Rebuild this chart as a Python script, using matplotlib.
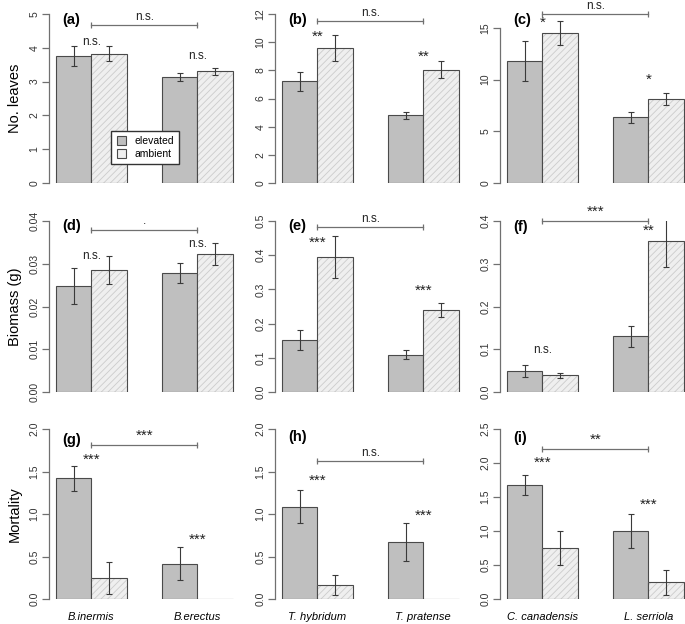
import numpy as np
import matplotlib.pyplot as plt
from matplotlib.patches import Patch

plt.rcParams['font.family'] = ['Liberation Sans', 'DejaVu Sans']
plt.rcParams['hatch.linewidth'] = 0.6

# ---- data (elevated / ambient, group 1 and group 2) ----
species = [["B.inermis", "B.erectus"],
           ["T. hybridum", "T. pratense"],
           ["C. canadensis", "L. serriola"]]

leaves_elev = [[3.75, 3.14], [7.22, 4.80], [11.8, 6.35]]
leaves_elev_se = [[0.30, 0.12], [0.67, 0.26], [1.90, 0.56]]
leaves_amb = [[3.83, 3.30], [9.58, 8.05], [14.5, 8.13]]
leaves_amb_se = [[0.23, 0.10], [0.94, 0.60], [1.15, 0.55]]

biom_elev = [[0.0248, 0.0278], [0.153, 0.109], [0.049, 0.130]]
biom_elev_se = [[0.0042, 0.0024], [0.029, 0.013], [0.013, 0.025]]
biom_amb = [[0.0286, 0.0322], [0.395, 0.240], [0.039, 0.353]]
biom_amb_se = [[0.0033, 0.0026], [0.062, 0.020], [0.0055, 0.060]]

mort_elev = [[1.418, 0.417], [1.088, 0.672], [1.675, 1.007]]
mort_elev_se = [[0.15, 0.195], [0.197, 0.225], [0.145, 0.25]]
mort_amb = [[0.248, 0.0], [0.165, 0.0], [0.751, 0.246]]
mort_amb_se = [[0.185, 0.0], [0.118, 0.0], [0.25, 0.18]]

# significance labels: (group1, group2, between groups)
sig = [[("n.s.", "n.s.", "n.s."), ("**", "**", "n.s."), ("*", "*", "n.s.")],
       [("n.s.", "n.s.", "."), ("***", "***", "n.s."), ("n.s.", "**", "***")],
       [("***", "***", "***"), ("***", "***", "n.s."), ("***", "***", "**")]]
# y positions of those labels and of the bracket
sig_y = [[(4.17, 3.77, 4.66), (10.4, 8.94, 11.53), (15.5, 10.0, 16.35)],
         [(0.0317, 0.0347, 0.038), (0.436, 0.297, 0.482), (0.099, 0.377, 0.40)],
         [(1.64, 0.70, 1.815), (1.39, 0.98, 1.62), (2.0, 1.385, 2.205)]]

panel_letters = [["(a)", "(b)", "(c)"], ["(d)", "(e)", "(f)"], ["(g)", "(h)", "(i)"]]
letter_y = [[0.965, 0.965, 0.965], [0.97, 0.97, 0.965], [0.935, 0.95, 0.947]]
ylims = [[5, 12, 16.35], [0.04, 0.5, 0.4], [2.0, 2.0, 2.5]]
yticks = [[np.arange(0, 6, 1), np.arange(0, 13, 2), np.arange(0, 16, 5)],
          [np.arange(0, 0.041, 0.01), np.arange(0, 0.51, 0.1), np.arange(0, 0.41, 0.1)],
          [np.arange(0, 2.01, 0.5), np.arange(0, 2.01, 0.5), np.arange(0, 2.51, 0.5)]]
fmts = [["%d", "%d", "%d"], ["%.2f", "%.1f", "%.1f"], ["%.1f", "%.1f", "%.1f"]]
ylabels = ["No. leaves", "Biomass (g)", "Mortality"]

elev = [leaves_elev, biom_elev, mort_elev]
elev_se = [leaves_elev_se, biom_elev_se, mort_elev_se]
amb = [leaves_amb, biom_amb, mort_amb]
amb_se = [leaves_amb_se, biom_amb_se, mort_amb_se]

# ---- layout in pixels ----
W, H = 685, 624
col_left = [49, 275, 500]
unit = 35.3
row_box = [(14, 183), (221, 392), (429, 599)]

c_elev = '#bfbfbf'
c_amb = '#efefef'
c_edge = '#4a4a4a'
c_axis = '#707070'

fig = plt.figure(figsize=(W / 100, H / 100), dpi=100)

x_elev = np.array([1.5, 4.5])
x_amb = np.array([2.5, 5.5])

for r in range(3):
    top, bot = row_box[r]
    for c in range(3):
        ax = fig.add_axes([col_left[c] / W, 1 - bot / H, 5.4 * unit / W, (bot - top) / H])
        ax.set_xlim(0.8, 6.2)
        ax.set_ylim(0, ylims[r][c])

        ax.bar(x_elev, elev[r][c], width=1, color=c_elev, edgecolor=c_edge, linewidth=0.8)
        ax.bar(x_amb, amb[r][c], width=1, color=c_amb, edgecolor='#cccccc',
               hatch='/////', linewidth=0)
        ax.bar(x_amb, amb[r][c], width=1, fill=False, edgecolor=c_edge, linewidth=0.8)

        for xs, ys, es in [(x_elev, elev[r][c], elev_se[r][c]), (x_amb, amb[r][c], amb_se[r][c])]:
            for xx, yy, ee in zip(xs, ys, es):
                if ee > 0:
                    ax.errorbar(xx, yy, yerr=ee, color='#3a3a3a', elinewidth=0.8,
                                capsize=2.2, capthick=0.8, fmt='none')

        s1, s2, sb = sig[r][c]
        y1, y2, yb = sig_y[r][c]
        fs1 = 8.5 if s1 == "n.s." else 11
        fs2 = 8.5 if s2 == "n.s." else 11
        ax.text(2, y1, s1, ha='center', va='center', fontsize=fs1, color='#222222')
        ax.text(5, y2, s2, ha='center', va='center', fontsize=fs2, color='#222222')
        ax.plot([2, 5], [yb, yb], color=c_axis, lw=0.9, clip_on=False)
        ax.plot([2, 5], [yb, yb], ls='none', marker='|', ms=5, mew=0.9,
                color=c_axis, clip_on=False)
        ax.annotate(sb, (3.5, yb), xytext=(0, 1.5), textcoords='offset points',
                    ha='center', va='bottom', fontsize=8.5 if sb in ("n.s.", ".") else 11,
                    color='#222222', annotation_clip=False)

        ax.text(0.072, letter_y[r][c], panel_letters[r][c],
                transform=ax.transAxes, fontsize=10.5, fontweight='bold',
                ha='left', va='center')

        for s in ['top', 'right', 'bottom']:
            ax.spines[s].set_visible(False)
        ax.spines['left'].set_color(c_axis)
        ax.spines['left'].set_linewidth(0.9)
        ax.spines['left'].set_bounds(0, yticks[r][c][-1])
        ax.set_xticks([])
        ax.set_yticks(yticks[r][c])
        ax.set_yticklabels([fmts[r][c] % v for v in yticks[r][c]], rotation=90,
                           va='center', fontsize=7.5, color='#333333')
        ax.tick_params(axis='y', length=5, width=0.9, color=c_axis, pad=2)
        ax.patch.set_visible(False)

        if r == 2:
            for k, name in enumerate(species[c]):
                ax.text([2, 5][k], -0.105, name, transform=ax.get_xaxis_transform(),
                        ha='center', va='center', fontsize=8, style='italic')

        if r == 0 and c == 0:
            handles = [Patch(facecolor=c_elev, edgecolor=c_edge, linewidth=0.8, label='elevated'),
                       Patch(facecolor=c_amb, edgecolor=c_edge, linewidth=0.8, label='ambient')]
            ax.legend(handles=handles, loc='lower left', bbox_to_anchor=(0.30, 0.08),
                      fontsize=7.5, frameon=True, fancybox=False, edgecolor='#333333',
                      handlelength=0.9, handleheight=0.9, handletextpad=0.8,
                      borderpad=0.5, labelspacing=0.3, framealpha=1)

    fig.text(15 / W, 1 - (top + bot) / 2 / H, ylabels[r], rotation=90,
             ha='center', va='center', fontsize=10.5)

fig.savefig('out.png', dpi=100)
